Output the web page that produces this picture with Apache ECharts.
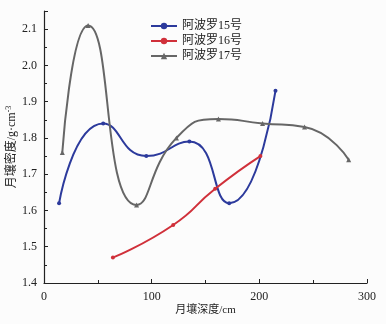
<!DOCTYPE html>
<html><head><meta charset="utf-8">
<script src="https://cdn.jsdelivr.net/npm/echarts@6/dist/echarts.min.js"></script>
<style>html,body{margin:0;padding:0;background:#fcfcfc}#c{width:386px;height:324px}</style>
</head><body><div id="c"></div>
<script>
const seriesNames = ['阿波罗15号', '阿波罗16号', '阿波罗17号'];
const apollo15 = [[14, 1.62], [55, 1.84], [95, 1.75], [135, 1.79], [172, 1.62], [215, 1.93]];
const apollo16 = [[64, 1.47], [120, 1.56], [159, 1.66], [201, 1.75]];
const apollo17 = [[17, 1.76], [41, 2.11], [86, 1.615], [123, 1.80], [162, 1.852], [203, 1.84], [242, 1.83], [283, 1.74]];
const xTicks = [0, 100, 200, 300];
const yTicks = ['1.4', '1.5', '1.6', '1.7', '1.8', '1.9', '2.0', '2.1'];

const serif = '"Liberation Serif", "Noto Sans CJK SC", serif';
const cjk = '"Liberation Serif", "Noto Sans CJK SC", serif';
const chart = echarts.init(document.getElementById('c'));
const axisCommon = {
  axisLine: { lineStyle: { color: '#222', width: 1.2 } },
  axisTick: { inside: true, length: 4, lineStyle: { color: '#222' } },
  minorTick: { show: true, splitNumber: 2, length: 3, lineStyle: { color: '#222' } },
  splitLine: { show: false },
  axisLabel: { color: '#222', fontFamily: serif, fontSize: 12 }
};
chart.setOption({
  backgroundColor: '#fcfcfc',
  animation: false,
  grid: { left: 44, right: 19, top: 11, bottom: 41, containLabel: false, outerBoundsMode: 'none' },
  legend: {
    orient: 'vertical', left: 145, top: 15, itemWidth: 26, itemHeight: 8, itemGap: 3,
    textStyle: { fontFamily: cjk, fontSize: 12, color: '#222' },
    data: seriesNames
  },
  xAxis: Object.assign({}, axisCommon, {
    type: 'value', min: xTicks[0], max: xTicks[xTicks.length - 1], interval: 100,
    name: '月壤深度/cm', nameLocation: 'middle', nameGap: 22, nameMoveOverlap: false,
    nameTextStyle: { fontFamily: cjk, fontSize: 11, color: '#222' }
  }),
  yAxis: Object.assign({}, axisCommon, {
    type: 'value', min: 1.4, max: 2.15, interval: 0.1,
    axisLabel: { color: '#222', fontFamily: serif, fontSize: 12, margin: 7,
      formatter: v => { const s = v.toFixed(1); return yTicks.includes(s) && Math.abs(v * 10 - Math.round(v * 10)) < 1e-6 ? s : ''; } },
    name: '月壤密度/g·cm{sup|-3}', nameLocation: 'middle', nameGap: 32, nameRotate: 90, nameMoveOverlap: false,
    nameTextStyle: { fontFamily: cjk, fontSize: 12, color: '#222', align: 'center', verticalAlign: 'middle',
      rich: { sup: { fontSize: 8, padding: [0, 0, 6, 0], fontFamily: serif, color: '#222' } } }
  }),
  series: [
    { name: seriesNames[0], type: 'line', data: apollo15, smooth: 0.55, symbol: 'circle', symbolSize: 4,
      itemStyle: { color: '#2c3a9c' }, lineStyle: { width: 2, color: '#2c3a9c' } },
    { name: seriesNames[1], type: 'line', data: apollo16, smooth: 0.55, symbol: 'circle', symbolSize: 4,
      itemStyle: { color: '#d0303a' }, lineStyle: { width: 2, color: '#d0303a' } },
    { name: seriesNames[2], type: 'line', data: apollo17, smooth: 0.55, symbol: 'triangle', symbolSize: 5,
      itemStyle: { color: '#666' }, lineStyle: { width: 2, color: '#666' } }
  ]
});
</script></body></html>
